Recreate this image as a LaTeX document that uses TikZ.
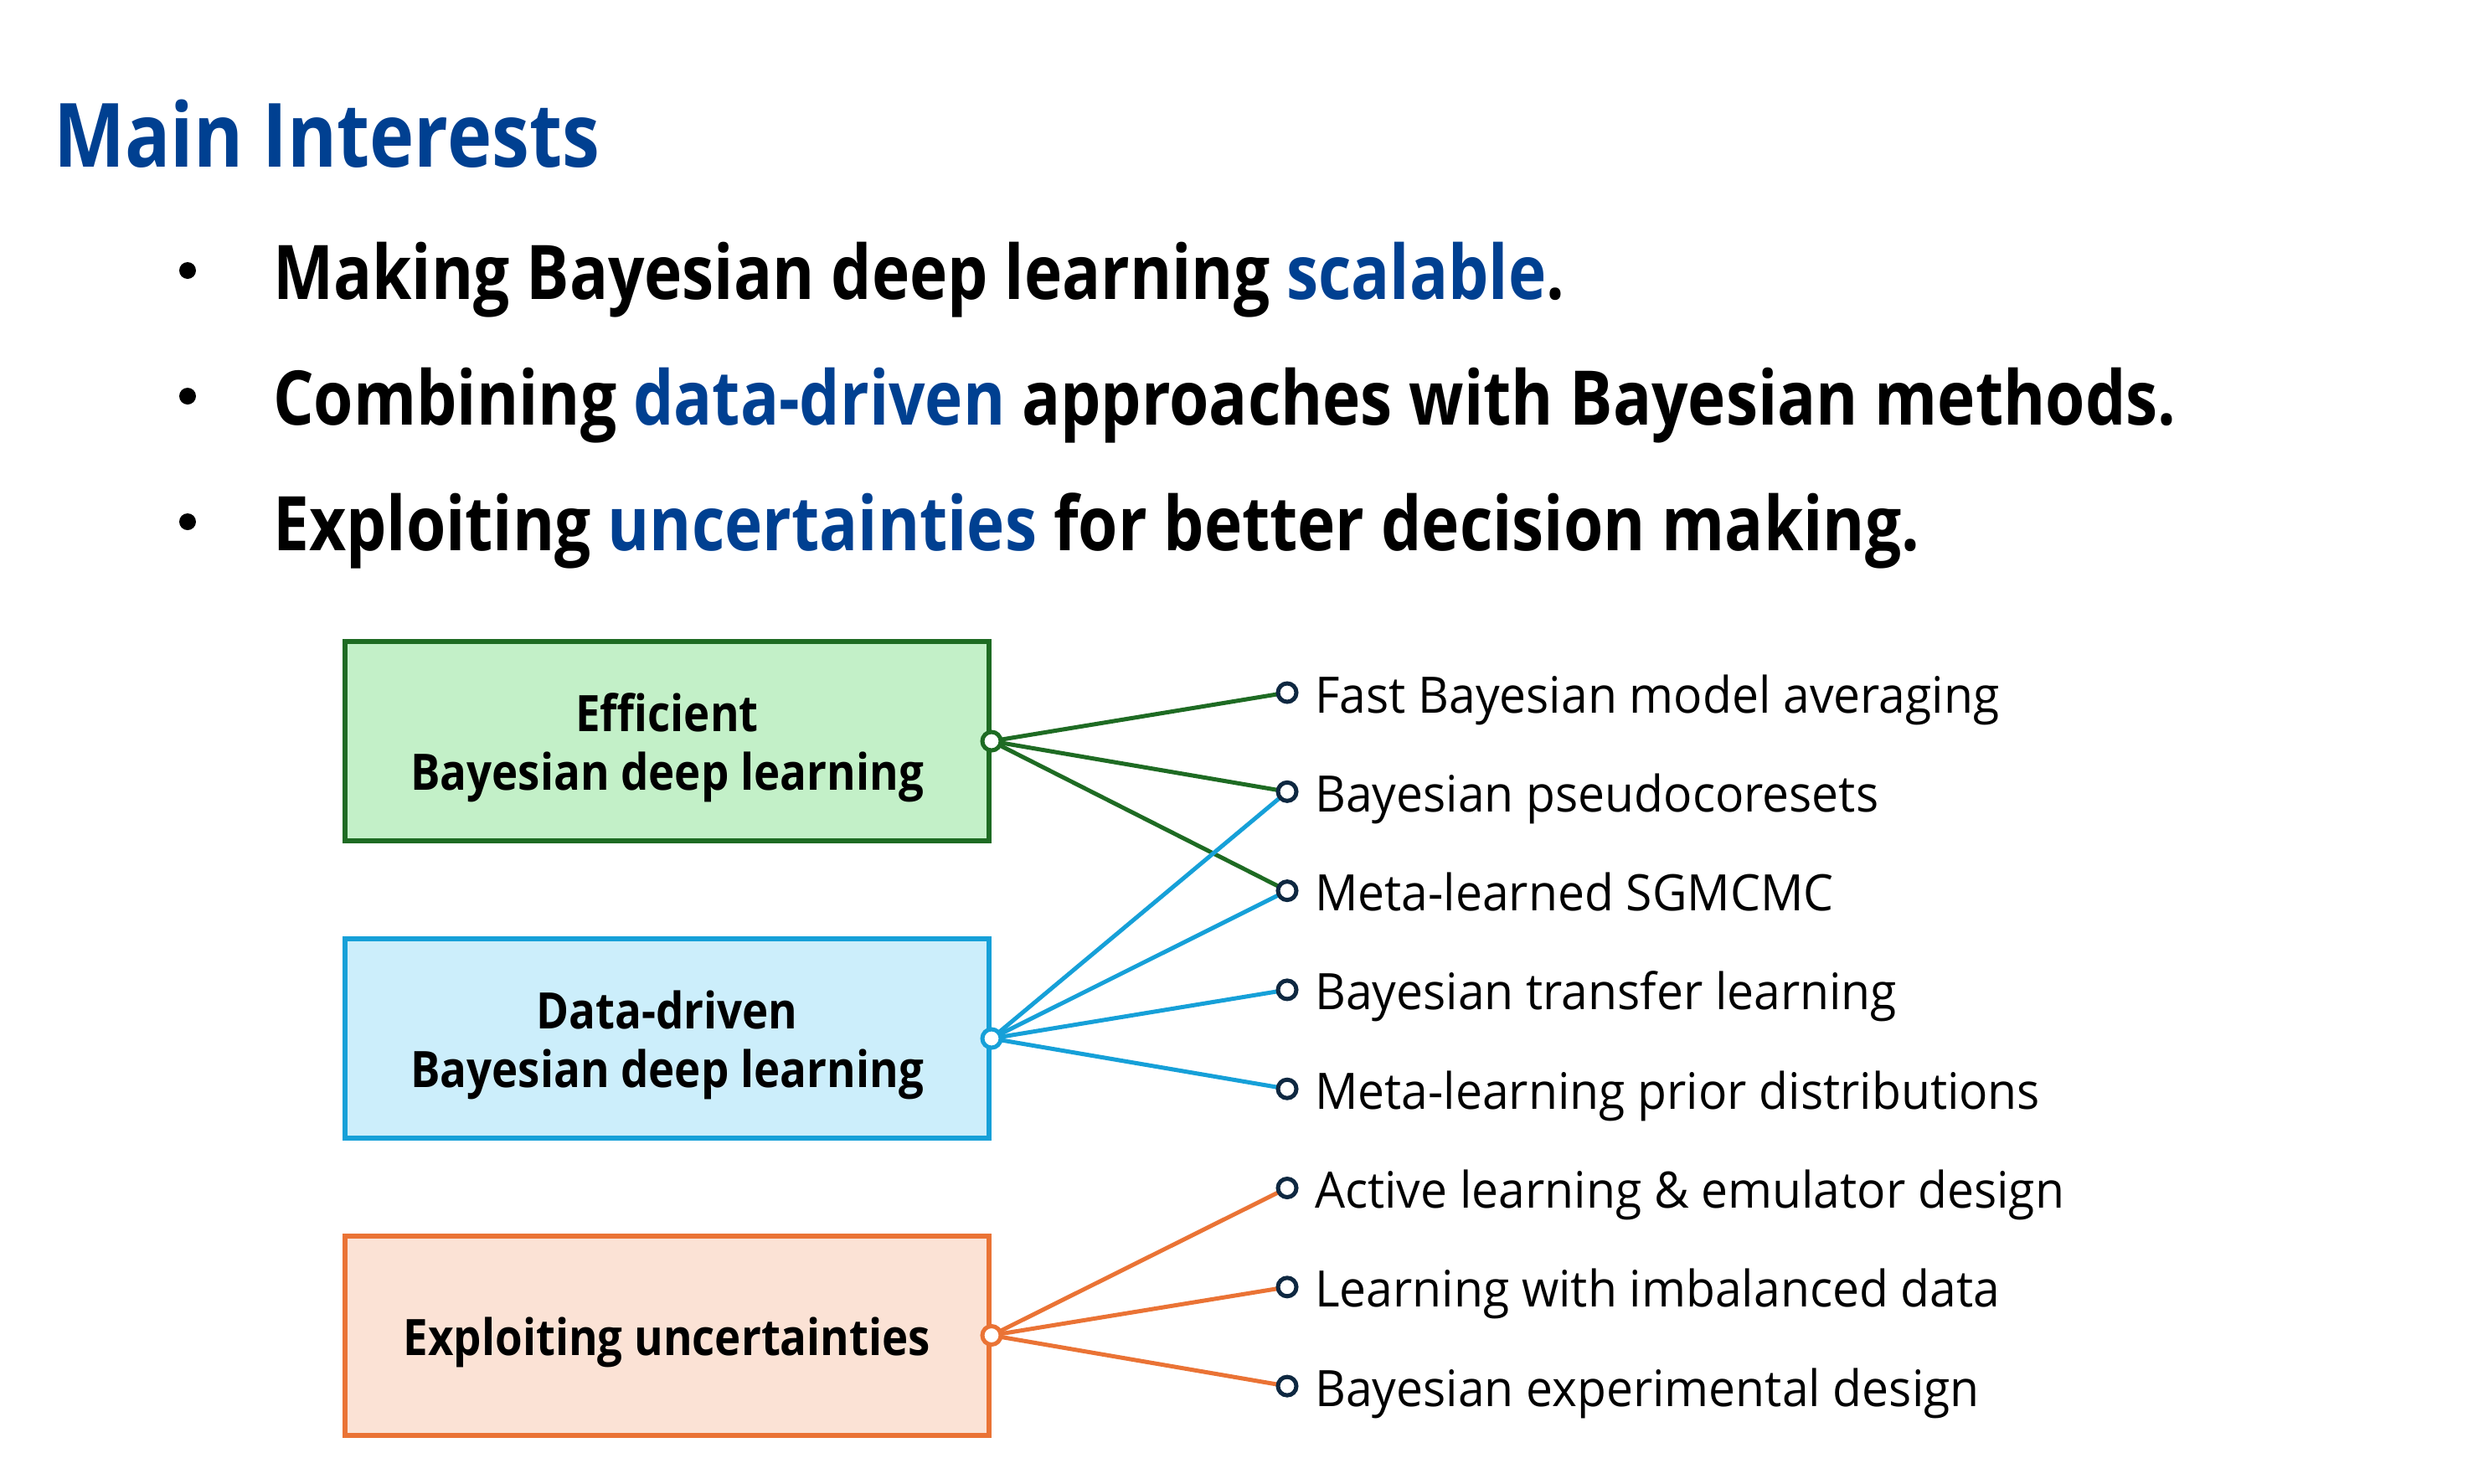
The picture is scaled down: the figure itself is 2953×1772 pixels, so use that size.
\documentclass[tikz,border=0pt]{standalone}
\usepackage{fontspec}
\usetikzlibrary{calc}
\setmainfont{Open Sans}
\newfontfamily\narrowsans[FakeStretch=0.85]{Open Sans}
\newfontfamily\boxsans[FakeStretch=0.88]{Open Sans}
\newfontfamily\itemsans[FakeStretch=0.95]{Open Sans}
\definecolor{headblue}{RGB}{0,64,145}
\definecolor{effline}{RGB}{30,107,35}
\definecolor{efffill}{RGB}{195,240,200}
\definecolor{dataline}{RGB}{22,160,216}
\definecolor{datafill}{RGB}{204,238,251}
\definecolor{explline}{RGB}{234,115,53}
\definecolor{explfill}{RGB}{251,226,213}
\definecolor{dotnavy}{RGB}{14,40,65}
\begin{document}
\begin{tikzpicture}[x=1pt,y=-1pt,
  heading/.style={anchor=base west,inner sep=0pt,text=headblue,font=\narrowsans\fontsize{106}{120}\selectfont\bfseries},
  bullettext/.style={anchor=base west,inner sep=0pt,font=\narrowsans\fontsize{90}{100}\selectfont\bfseries},
  bulletdot/.style={circle,fill=black,inner sep=0pt,minimum size=20pt},
  topicbox/.style={rectangle,line width=6pt,minimum width=769pt,minimum height=238pt,inner sep=0pt},
  topiclabel/.style={align=center,inner sep=0pt,yshift=-8pt,font=\boxsans\fontsize{60}{70}\selectfont\bfseries},
  hubdot/.style={circle,fill=white,line width=5pt,inner sep=0pt,minimum size=22pt},
  itemdot/.style={circle,fill=white,draw=dotnavy,line width=5pt,inner sep=0pt,minimum size=22pt},
  itemtext/.style={anchor=base west,inner sep=0pt,font=\itemsans\fontsize{60}{70}\selectfont},
  link/.style={line width=5pt}]
\useasboundingbox (0,0) rectangle (2953,1772);

% heading and bullet list
\node[heading] (head) at (64,199) {Main Interests};
\node[bulletdot] (b1) at (224,323) {};
\node[bulletdot] (b2) at (224,473) {};
\node[bulletdot] (b3) at (224,623) {};
\node[bullettext] (l1) at (326,357) {Making Bayesian deep learning \textcolor{headblue}{scalable}.};
\node[bullettext] (l2) at (326,507) {Combining \textcolor{headblue}{data-driven} approaches with Bayesian methods.};
\node[bullettext] (l3) at (326,657) {Exploiting \textcolor{headblue}{uncertainties} for better decision making.};

% topic boxes
\node[topicbox,draw=effline,fill=efffill] (eff) at (796.5,885) {};
\node[topicbox,draw=dataline,fill=datafill] (data) at (796.5,1240) {};
\node[topicbox,draw=explline,fill=explfill] (expl) at (796.5,1594.5) {};
\node[topiclabel] (efflabel) at (eff.center) {Efficient\\Bayesian deep learning};
\node[topiclabel] (datalabel) at (data.center) {Data-driven\\Bayesian deep learning};
\node[topiclabel] (expllabel) at (expl.center) {Exploiting uncertainties};

% research items
\foreach \k in {1,...,8}
  \coordinate (p\k) at (1537,{827+(\k-1)*118.3});

% connectors
\foreach \k in {1,2,3} \draw[link,effline] (eff.east) -- (p\k);
\foreach \k in {2,3,4,5} \draw[link,dataline] (data.east) -- (p\k);
\foreach \k in {6,7,8} \draw[link,explline] (expl.east) -- (p\k);

\node[hubdot,draw=effline] (h1) at (eff.east) {};
\node[hubdot,draw=dataline] (h2) at (data.east) {};
\node[hubdot,draw=explline] (h3) at (expl.east) {};

\foreach \k/\txt in {1/Fast Bayesian model averaging,
                     2/Bayesian pseudocoresets,
                     3/Meta-learned SGMCMC,
                     4/Bayesian transfer learning,
                     5/Meta-learning prior distributions,
                     6/Active learning \& emulator design,
                     7/Learning with imbalanced data,
                     8/Bayesian experimental design}{
  \node[itemdot] (d\k) at (p\k) {};
  \node[itemtext] (t\k) at ($(p\k)+(33,24)$) {\txt};
}
\end{tikzpicture}
\end{document}
